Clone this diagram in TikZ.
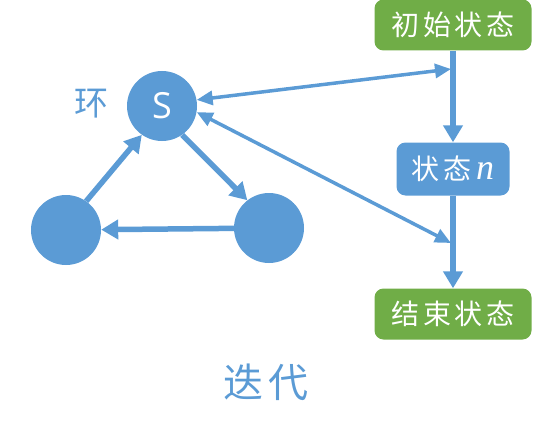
\documentclass[tikz,border=0pt]{standalone}
\usepackage{fontspec}
\setmainfont{Open Sans}
\newfontfamily\cjk[LetterSpace=12]{Noto Sans CJK SC}
\newfontfamily\letterfont{Liberation Serif}
\usetikzlibrary{arrows.meta}
\definecolor{ltblue}{HTML}{5B9BD5}
\definecolor{ltgreen}{HTML}{70AD47}
\begin{document}
\begin{tikzpicture}[x=1pt,y=-1pt,
    ball/.style={circle,fill=ltblue,minimum size=70pt,inner sep=0pt},
    endbox/.style={rounded corners=9pt,fill=ltgreen,minimum width=157pt,minimum height=51pt,text=white,font=\cjk\fontsize{28}{30}\selectfont},
    midbox/.style={rounded corners=9pt,fill=ltblue,minimum width=113pt,minimum height=53pt,text=white,font=\cjk\fontsize{28}{30}\selectfont},
    flow/.style={draw=ltblue,line width=5.5pt,-{Triangle[length=17pt,width=19pt]}},
    link/.style={draw=ltblue,line width=3.5pt,{Triangle[length=16pt,width=14pt]}-{Triangle[length=16pt,width=14pt]}}]
    \useasboundingbox (0,0) rectangle (537,425);
    \node[endbox] (start) at (453,25){初始状态};
    \node[midbox] (mid) at (453,169){状态\,{\letterfont\itshape\fontsize{36}{38}\selectfont n}};
    \node[endbox] (stop) at (453,314){结束状态};
    \node[ball,text=white,font=\fontsize{36}{38}\selectfont] (S) at (162,106){S};
    \node[ball] (L) at (66,230){};
    \node[ball] (R) at (269,228){};
    \node[text=ltblue,font=\cjk\fontsize{34}{36}\selectfont] (loop) at (91,104){环};
    \node[text=ltblue,font=\cjk\fontsize{40}{42}\selectfont] (iter) at (266,382){迭代};
    \coordinate (up) at (451,69);
    \coordinate (down) at (451,243);
    \draw[flow] (start) -- (mid);
    \draw[flow] (mid) -- (stop);
    \draw[link] (S.10) -- (up);
    \draw[link] (S.-10) -- (down);
    \draw[flow] (S.-55) -- (R.128);
    \draw[flow] (R) -- (L);
    \draw[flow] (L.55) -- (S.-125);
\end{tikzpicture}
\end{document}
